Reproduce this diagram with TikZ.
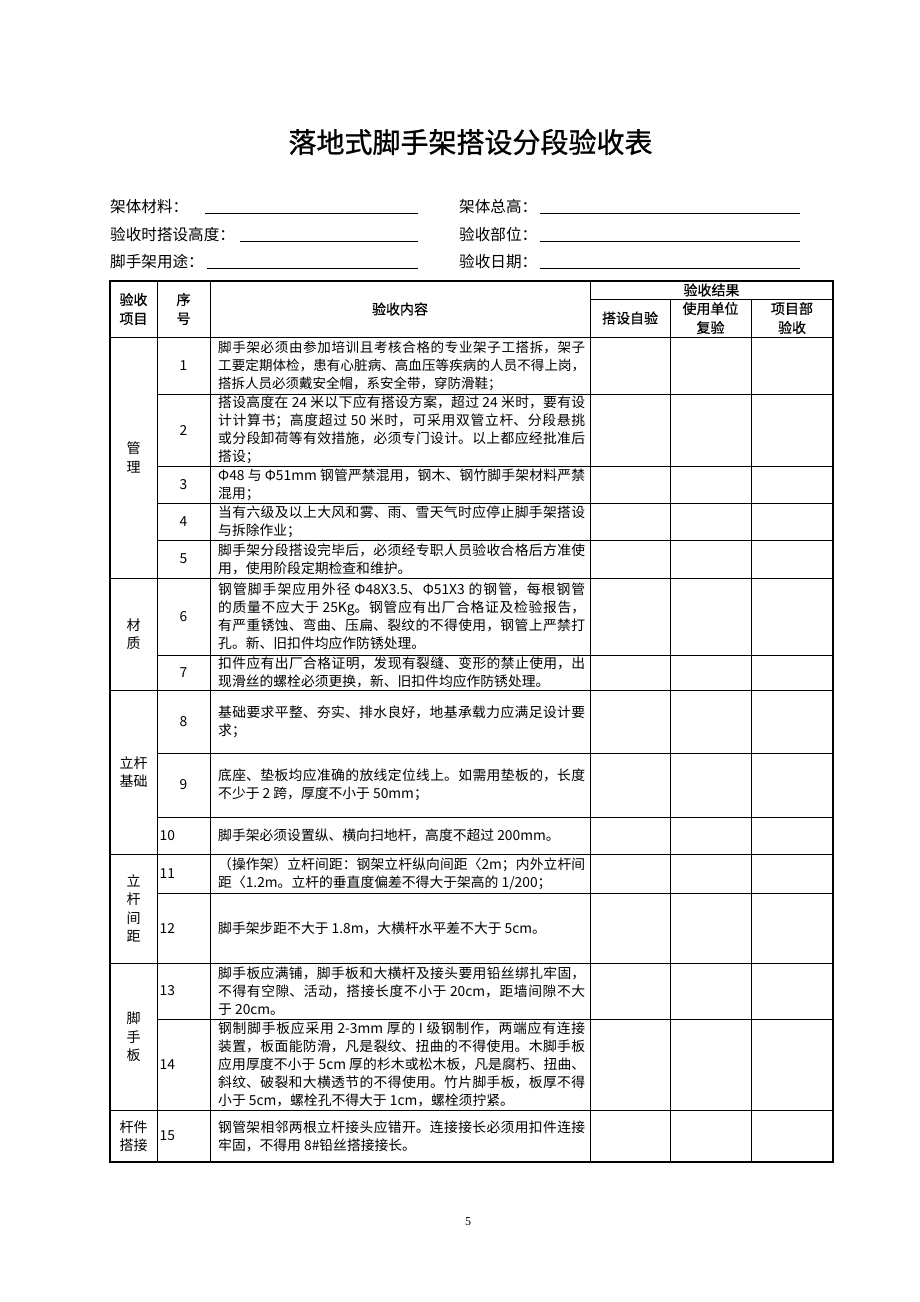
\documentclass[tikz,border=0pt]{standalone}
\usepackage{fontspec}
\newfontfamily\cjk{Noto Sans CJK SC}
\newfontfamily\hei[FakeBold=0.6]{Noto Sans CJK SC}
\newfontfamily\ttl[FakeBold=1.0]{Noto Sans CJK SC}
\newfontfamily\pgnum{Liberation Serif}
\XeTeXlinebreaklocale "zh"
\XeTeXlinebreakskip=0pt plus 2pt
\newcommand\bodyf{\cjk\fontsize{13.8}{18}\selectfont}
\newcommand\hdrf{\hei\fontsize{14}{19}\selectfont}
\tikzset{
  body/.style={font=\bodyf, inner sep=0pt, anchor=west, text width=367pt, align=justify},
  numc/.style={font=\bodyf, inner sep=0pt},
  numl/.style={font=\bodyf, inner sep=0pt, anchor=west},
  hdr/.style={font=\hdrf, inner sep=0pt, align=center},
  cat/.style={font=\cjk\fontsize{14}{18.5}\selectfont, inner sep=0pt, align=center},
  formlbl/.style={font=\cjk\fontsize{15.6}{18}\selectfont, inner sep=0pt, anchor=west},
  uline/.style={line width=0.7pt},
  grid/.style={line width=0.6pt},
  frame/.style={line width=1.6pt}
}
\begin{document}
\begin{tikzpicture}[x=1pt,y=-1pt]
\useasboundingbox[fill=white] (0,0) rectangle (920,1302);

% title
\node[font=\ttl\fontsize{28}{30}\selectfont, inner sep=0pt] (title) at (470.5,142) {落地式脚手架搭设分段验收表};

% form fields
\node[formlbl] (f1) at (110,207) {架体材料：};
\node[formlbl] (f2) at (110,235) {验收时搭设高度：};
\node[formlbl] (f3) at (110,262) {脚手架用途：};
\node[formlbl] (f4) at (459,207) {架体总高：};
\node[formlbl] (f5) at (459,235) {验收部位：};
\node[formlbl] (f6) at (459,262) {验收日期：};
\draw[uline] (205,213) -- (418,213);
\draw[uline] (240,241) -- (418,241);
\draw[uline] (207,268) -- (418,268);
\draw[uline] (540,213) -- (800,213);
\draw[uline] (540,241) -- (800,241);
\draw[uline] (540,268) -- (800,268);

% table grid
\foreach \x in {157,210,590} \draw[grid] (\x,281) -- (\x,1162);
\foreach \x in {670,751} \draw[grid] (\x,299) -- (\x,1162);
\draw[grid] (590,299) -- (833,299);
\foreach \y in {337,578,690,854,963,1110} \draw[grid] (110,\y) -- (833,\y);
\foreach \y in {394,466,503,540,655,753,817,893,1019} \draw[grid] (157,\y) -- (833,\y);
\draw[frame] (110,281) rectangle (833,1162);

% header
\node[hdr] (h1) at (133.5,309) {验收\\项目};
\node[hdr] (h2) at (183.5,309) {序\\号};
\node[hdr] (h3) at (400,309) {验收内容};
\node[hdr] (h4) at (711.5,290) {验收结果};
\node[hdr] (h5) at (630,318) {搭设自验};
\node[hdr] (h6) at (710.5,318) {使用单位\\复验};
\node[hdr] (h7) at (792,318) {项目部\\验收};

% categories
\node[cat] (c1) at (133.5,457.5) {管\\理};
\node[cat] (c2) at (133.5,634) {材\\质};
\node[cat] (c3) at (133.5,772) {立杆\\基础};
\node[cat] (c4) at (133.5,908.5) {立\\杆\\间\\距};
\node[cat] (c5) at (133.5,1037) {脚\\手\\板};
\node[cat] (c6) at (133.5,1136) {杆件\\搭接};

% numbers
\node[numc] (n1) at (183.5,365.5) {1};
\node[numc] (n2) at (183.5,430) {2};
\node[numc] (n3) at (183.5,484.5) {3};
\node[numc] (n4) at (183.5,521.5) {4};
\node[numc] (n5) at (183.5,559) {5};
\node[numc] (n6) at (183.5,616.5) {6};
\node[numc] (n7) at (183.5,672.5) {7};
\node[numc] (n8) at (183.5,721.5) {8};
\node[numc] (n9) at (183.5,785) {9};
\node[numl] (n10) at (159.5,835.5) {10};
\node[numl] (n11) at (159.5,873.5) {11};
\node[numl] (n12) at (159.5,928) {12};
\node[numl] (n13) at (159.5,991) {13};
\node[numl] (n14) at (159.5,1064.5) {14};
\node[numl] (n15) at (159.5,1136) {15};

% contents
\node[body, font=\cjk\fontsize{13.5}{18}\selectfont] (t1) at (218,365.5) {脚手架必须由参加培训且考核合格的专业架子工搭拆，架子\linebreak 工要定期体检，患有心脏病、高血压等疾病的人员不得上岗，\linebreak 搭拆人员必须戴安全帽，系安全带，穿防滑鞋；};
\node[body] (t2) at (218,430) {搭设高度在 24 米以下应有搭设方案，超过 24 米时，要有设\linebreak 计计算书；高度超过 50 米时，可采用双管立杆、分段悬挑\linebreak 或分段卸荷等有效措施，必须专门设计。以上都应经批准后\linebreak 搭设；};
\node[body] (t3) at (218,484.5) {Φ48 与 Φ51mm 钢管严禁混用，钢木、钢竹脚手架材料严禁\linebreak 混用；};
\node[body] (t4) at (218,521.5) {当有六级及以上大风和雾、雨、雪天气时应停止脚手架搭设\linebreak 与拆除作业；};
\node[body] (t5) at (218,559) {脚手架分段搭设完毕后，必须经专职人员验收合格后方准使\linebreak 用，使用阶段定期检查和维护。};
\node[body] (t6) at (218,616.5) {钢管脚手架应用外径 Φ48X3.5、Φ51X3 的钢管，每根钢管\linebreak 的质量不应大于 25Kg。钢管应有出厂合格证及检验报告，\linebreak 有严重锈蚀、弯曲、压扁、裂纹的不得使用，钢管上严禁打\linebreak 孔。新、旧扣件均应作防锈处理。};
\node[body] (t7) at (218,672.5) {扣件应有出厂合格证明，发现有裂缝、变形的禁止使用，出\linebreak 现滑丝的螺栓必须更换，新、旧扣件均应作防锈处理。};
\node[body] (t8) at (218,721.5) {基础要求平整、夯实、排水良好，地基承载力应满足设计要\linebreak 求；};
\node[body] (t9) at (218,785) {底座、垫板均应准确的放线定位线上。如需用垫板的，长度\linebreak 不少于 2 跨，厚度不小于 50mm；};
\node[body] (t10) at (218,835.5) {脚手架必须设置纵、横向扫地杆，高度不超过 200mm。};
\node[body] (t11) at (218,873.5) {（操作架）立杆间距：钢架立杆纵向间距〈2m；内外立杆间\linebreak 距〈1.2m。立杆的垂直度偏差不得大于架高的 1/200；};
\node[body] (t12) at (218,928) {脚手架步距不大于 1.8m，大横杆水平差不大于 5cm。};
\node[body] (t13) at (218,991) {脚手板应满铺，脚手板和大横杆及接头要用铅丝绑扎牢固，\linebreak 不得有空隙、活动，搭接长度不小于 20cm，距墙间隙不大\linebreak 于 20cm。};
\node[body] (t14) at (218,1064.5) {钢制脚手板应采用 2-3mm 厚的 I 级钢制作，两端应有连接\linebreak 装置，板面能防滑，凡是裂纹、扭曲的不得使用。木脚手板\linebreak 应用厚度不小于 5cm 厚的杉木或松木板，凡是腐朽、扭曲、\linebreak 斜纹、破裂和大横透节的不得使用。竹片脚手板，板厚不得\linebreak 小于 5cm，螺栓孔不得大于 1cm，螺栓须拧紧。};
\node[body] (t15) at (218,1136) {钢管架相邻两根立杆接头应错开。连接接长必须用扣件连接\linebreak 牢固，不得用 8\#铅丝搭接接长。};

% page number
\node[font=\pgnum\fontsize{12}{14}\selectfont, inner sep=0pt] (pg) at (468,1222) {5};
\end{tikzpicture}
\end{document}
